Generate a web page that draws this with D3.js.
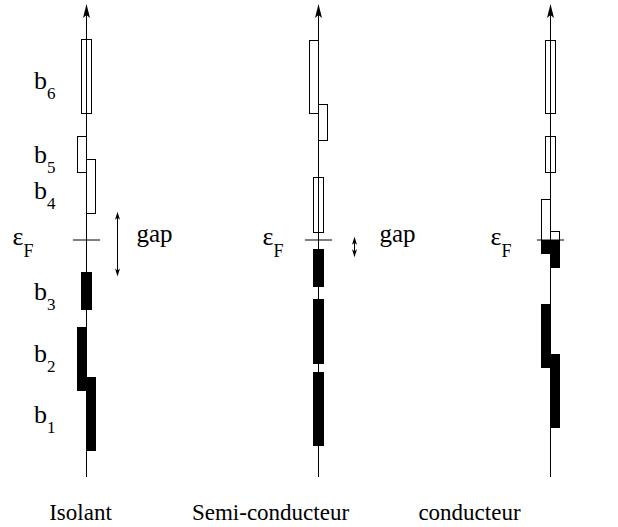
<!DOCTYPE html>
<html>
<head>
<meta charset="UTF-8">
<title>Bandes d'energie</title>
<style>
    body { margin: 0; background: #fff; }
    svg { display: block; }
</style>
</head>
<body>
<script src="https://cdn.jsdelivr.net/npm/d3@7"></script>
<script type="text/javascript">

// energies in arbitrary units, Fermi level at 0
var materials = ["Isolant", "Semi-conducteur", "conducteur"];

// bands as [top, bottom, side]  (side: -1 left of axis, 0 centred, 1 right)
var isolantBands = [[8.5, 5.4, 0], [4.4, 2.9, -1], [3.45, 1.15, 1],
                    [-1.35, -2.95, 0], [-3.7, -6.4, -1], [-5.8, -8.95, 1]];
var semiBands    = [[8.47, 5.38, -1], [5.76, 4.22, 1], [2.68, 0.35, 0],
                    [-0.39, -1.98, 0], [-2.51, -5.25, 0], [-5.6, -8.73, 0]];
var condBands    = [[8.47, 5.38, 0], [4.42, 2.87, 0], [1.72, -0.61, -1],
                    [0.38, -1.2, 1], [-2.71, -5.44, -1], [-4.84, -7.98, 1]];
var bands = [isolantBands, semiBands, condBands];

// band names for the insulator
var bandNames  = ["6", "5", "4", "3", "2", "1"];
var bandLabelE = [6.4, 3.26, 1.74, -2.54, -5.17, -7.75];

// gap arrows [top, bottom]
var gaps = [[1.2, -1.55], [0.14, -0.73], null];

var width = 618, height = 527;
var serif = "'Liberation Serif', 'Times New Roman', Times, serif";

var svg = d3.select("body").append("svg")
    .attr("width", width)
    .attr("height", height)
    .attr("font-family", serif);

var y = d3.scaleLinear().domain([-10, 10]).range([476, 4]);
var x = d3.scalePoint().domain(materials).range([86, 550]);
var dx = d3.scaleLinear().domain([-1, 1]).range([-9.4, 9.4]);

// layout tweaks per panel
var nameOffset = [-6, -48, -81];   // centre of bottom label vs axis
var epsOffset = [-74, -56, -60];   // start of eps_F label vs axis
var gapOffset = [31, 36, 0];       // gap arrow vs axis
var gapTextOffset = [19, 25, 0];   // gap text vs arrow

var fermi = Math.round(y(0)) + 0.5;

materials.forEach(function(m, i) {
    var g = svg.append("g")
        .attr("transform", "translate(" + (Math.round(x(m)) + 0.5) + ",0)");

    // energy axis with arrow
    var tip = y(10);
    g.append("line")
        .attr("x1", 0).attr("x2", 0)
        .attr("y1", y(-10) + 1).attr("y2", tip + 8)
        .attr("stroke", "#000").attr("stroke-width", 1);
    g.append("path")
        .attr("d", "M0," + tip + " L-3.5," + (tip + 14) + " L0," + (tip + 11) + " L3.5," + (tip + 14) + " Z")
        .attr("fill", "#000");

    // bands: empty above Fermi level, filled below
    bands[i].forEach(function(b) {
        var x0 = Math.round(dx((b[2] - 1) / 2));
        var x1 = Math.round(dx((b[2] + 1) / 2));
        if (b[0] > 0) {
            var t = Math.round(y(b[0])) + 0.5;
            var bt = Math.round(y(Math.max(b[1], 0))) + 0.5;
            g.append("rect")
                .attr("x", x0).attr("y", t)
                .attr("width", x1 - x0).attr("height", bt - t)
                .attr("fill", "none").attr("stroke", "#000").attr("stroke-width", 1);
        }
        if (b[1] < 0) {
            var t2 = Math.round(y(Math.min(b[0], 0)));
            var b2 = Math.round(y(b[1]));
            g.append("rect")
                .attr("x", x0 - 0.5).attr("y", t2)
                .attr("width", x1 - x0 + 1).attr("height", b2 - t2)
                .attr("fill", "#000");
        }
    });

    // Fermi level
    g.append("line")
        .attr("x1", -13.6).attr("x2", 13.6)
        .attr("y1", fermi - 0.5).attr("y2", fermi - 0.5)
        .attr("stroke", "#000").attr("stroke-width", 1);

    var eps = g.append("text")
        .attr("x", epsOffset[i]).attr("y", y(0) + 5)
        .attr("font-size", 26);
    eps.append("tspan").text("\u03b5");
    eps.append("tspan").attr("dy", 12).attr("font-size", 18).text("F");

    // gap arrow
    if (gaps[i]) {
        var gx = gapOffset[i];
        var ga = y(gaps[i][0]), gb = y(gaps[i][1]);
        g.append("line")
            .attr("x1", gx).attr("x2", gx)
            .attr("y1", ga + 4).attr("y2", gb - 4)
            .attr("stroke", "#000").attr("stroke-width", 1);
        g.append("path")
            .attr("d", "M" + gx + "," + ga + " L" + (gx - 2.5) + "," + (ga + 8) + " L" + gx + "," + (ga + 6) + " L" + (gx + 2.5) + "," + (ga + 8) + " Z")
            .attr("fill", "#000");
        g.append("path")
            .attr("d", "M" + gx + "," + gb + " L" + (gx - 2.5) + "," + (gb - 8) + " L" + gx + "," + (gb - 6) + " L" + (gx + 2.5) + "," + (gb - 8) + " Z")
            .attr("fill", "#000");
        g.append("text")
            .attr("x", gx + gapTextOffset[i]).attr("y", y(0) + 2)
            .attr("font-size", 25)
            .text("gap");
    }

    // material name
    g.append("text")
        .attr("x", nameOffset[i]).attr("y", 520)
        .attr("text-anchor", "middle")
        .attr("font-size", 23)
        .text(m);
});

// b_n labels for the insulator
var lab = svg.append("g");
bandNames.forEach(function(n, k) {
    var t = lab.append("text")
        .attr("x", 34).attr("y", y(bandLabelE[k]))
        .attr("font-size", 26);
    t.append("tspan").text("b");
    t.append("tspan").attr("dy", 10).attr("font-size", 17).text(n);
});

</script>
</body>
</html>
